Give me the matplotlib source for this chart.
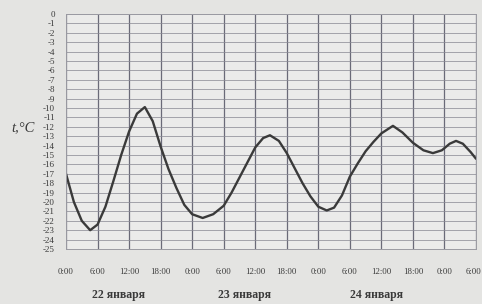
import matplotlib
matplotlib.use("Agg")
import matplotlib.pyplot as plt
import matplotlib.transforms as mtransforms
import numpy as np

# readings: hours from 22 Jan 0:00, temperature in C
hours = [0, 1.5, 3, 4.6, 6, 7.5, 9, 10.5, 12, 13.5, 15, 16.5, 18, 19.5, 21, 22.5,
         24, 26, 28, 30, 31.5, 33, 34.5, 36, 37.5, 38.8, 40.5, 42, 43.5, 45, 46.5,
         48, 49.6, 51, 52.5, 54, 55.5, 57, 58.5, 60, 62.2, 64, 66, 68, 69.8,
         71.5, 73, 74.2, 75.5, 77, 78]
temps = [-17.0, -20.0, -22.0, -23.0, -22.4, -20.5, -17.8, -15.0, -12.5, -10.6, -9.9, -11.4, -14.1, -16.5, -18.5, -20.3,
         -21.3, -21.7, -21.3, -20.4, -19.0, -17.4, -15.8, -14.2, -13.2, -12.9, -13.5, -14.8, -16.4, -18.0, -19.4,
         -20.5, -20.9, -20.6, -19.3, -17.3, -15.9, -14.6, -13.6, -12.7, -11.9, -12.6, -13.7, -14.5, -14.8,
         -14.5, -13.8, -13.5, -13.8, -14.7, -15.4]

xtick_hours = list(range(0, 79, 6))
xtick_labels = ["0:00", "6:00", "12:00", "18:00"] * 3 + ["0:00", "6:00"]
ytick_vals = list(range(0, -26, -1))
ytick_labels = [str(v) for v in ytick_vals]
day_labels = ["22 января", "23 января", "24 января"]
day_pos = [10, 34, 59]

ink = "#3a3a3a"
serif = ["Liberation Serif", "DejaVu Serif"]

fig = plt.figure(figsize=(4.82, 3.04), dpi=100, facecolor="#e4e4e2")
ax = fig.add_axes([66 / 482, 1 - 249 / 304, 410 / 482, 235 / 304])
ax.set_facecolor("#ebebea")

ax.plot(hours, temps, color=ink, lw=1.7, solid_capstyle="round", solid_joinstyle="round")

ax.set_xlim(0, 78)
ax.set_ylim(-25, 0)
ax.set_xticks(xtick_hours)
ax.set_xticklabels(xtick_labels, fontsize=6.3, family=serif, color=ink)
ax.set_yticks(ytick_vals)
ax.set_yticklabels(ytick_labels, fontsize=6.5, family=serif, color=ink)
ax.tick_params(axis="x", length=0, pad=14)
ax.tick_params(axis="y", length=0, pad=8)

# last label sits at the right edge of the picture
last = ax.get_xticklabels()[-1]
last.set_ha("right")
last.set_transform(last.get_transform() + mtransforms.ScaledTranslation(5 / 100, 0, fig.dpi_scale_trans))

ax.grid(True, axis="y", color="#8a8a94", lw=0.7, alpha=0.75)
ax.grid(True, axis="x", color="#6a6a78", lw=0.9)
for s in ax.spines.values():
    s.set_color("#9a9aa2")
    s.set_linewidth(0.7)

for lab, p in zip(day_labels, day_pos):
    ax.text(p, -29.9, lab, ha="center", va="center", fontsize=8.5,
            fontweight="bold", family=serif, color=ink)

fig.text(23 / 482, 1 - 128 / 304, "t,°C", ha="center", va="center",
         fontsize=10.5, style="italic", family=serif, color=ink)

fig.savefig("out.png", dpi=100, facecolor=fig.get_facecolor())
